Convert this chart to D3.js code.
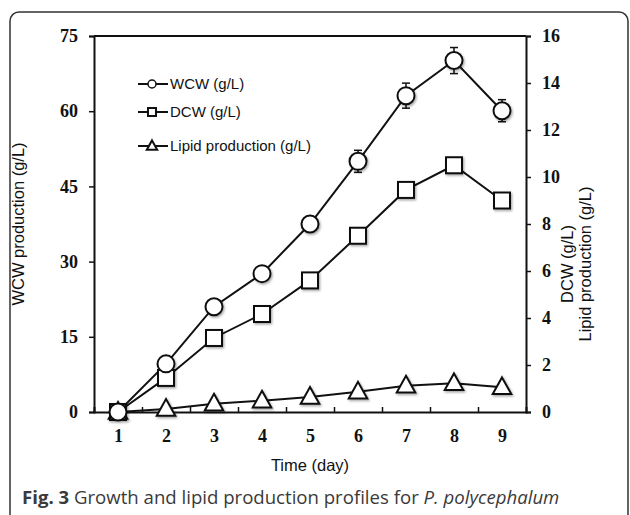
<!DOCTYPE html>
<html><head><meta charset="utf-8">
<script src="https://cdn.jsdelivr.net/npm/d3@7"></script>
<style>body{margin:0;background:#fff}svg{display:block}</style>
</head><body>
<script>
const days = [1,2,3,4,5,6,7,8,9];
const wcw = [0, 9.6, 21, 27.6, 37.5, 50, 63.1, 70.1, 60.1];
const wcwErr = [0, 0.5, 1.5, 1.4, 1.5, 2.2, 2.5, 2.6, 2.2];
const dcw = [0, 1.45, 3.15, 4.17, 5.6, 7.5, 9.45, 10.5, 9.0];
const lipid = [0, 0.13, 0.35, 0.48, 0.64, 0.86, 1.12, 1.22, 1.05];
const leftTicks = [0, 15, 30, 45, 60, 75];
const rightTicks = [0, 2, 4, 6, 8, 10, 12, 14, 16];
const legendLabels = ["WCW (g/L)", "DCW (g/L)", "Lipid production (g/L)"];

const W = 630, H = 515;
const svg = d3.select("body").append("svg").attr("width", W).attr("height", H);
const defs = svg.append("defs");
const f = defs.append("filter").attr("id","sh").attr("x","-50%").attr("y","-50%").attr("width","200%").attr("height","200%");
f.append("feDropShadow").attr("dx",1.2).attr("dy",1.5).attr("stdDeviation",1).attr("flood-color","#000").attr("flood-opacity",0.35);

// frame
svg.append("rect").attr("x",10).attr("y",12).attr("width",618).attr("height",540)
  .attr("rx",9).attr("fill","none").attr("stroke","#333").attr("stroke-width",1.5);

const L = 94, R = 526, T = 36, B = 412;
const x = d3.scaleLinear().domain([0.5, 9.5]).range([L, R]);
const yL = d3.scaleLinear().domain([0, 75]).range([B, T]);
const yR = d3.scaleLinear().domain([0, 16]).range([B, T]);

const serif = "'Liberation Serif','Times New Roman',serif";
const sans = "'Liberation Sans',Arial,sans-serif";

// top border
svg.append("line").attr("x1",L).attr("x2",R).attr("y1",T).attr("y2",T).attr("stroke","#111").attr("stroke-width",2);

function styleAxis(g){
  g.select(".domain").attr("stroke","#111").attr("stroke-width",2);
  g.selectAll(".tick line").attr("stroke","#111").attr("stroke-width",1.5);
  g.selectAll("text").attr("font-family",serif).attr("font-weight","bold").attr("font-size",18).attr("fill","#111");
}
const gl = svg.append("g").attr("transform",`translate(${L},0)`)
  .call(d3.axisLeft(yL).tickValues(leftTicks).tickSizeOuter(0).tickSize(5).tickPadding(11));
styleAxis(gl);
const gr = svg.append("g").attr("transform",`translate(${R},0)`)
  .call(d3.axisRight(yR).tickValues(rightTicks).tickSizeOuter(0).tickSize(5).tickPadding(11));
styleAxis(gr);
const gb = svg.append("g").attr("transform",`translate(0,${B})`)
  .call(d3.axisBottom(x).tickValues(days.slice(0,8).map(d=>d+0.5)).tickSizeOuter(0).tickSize(-5).tickFormat(""));
styleAxis(gb);
const gb2 = svg.append("g").attr("transform",`translate(0,${B})`)
  .call(d3.axisBottom(x).tickValues(days).tickSize(0).tickPadding(17).tickFormat(d3.format("d")));
gb2.select(".domain").remove();
styleAxis(gb2);

// axis titles
svg.append("text").attr("transform",`translate(24,${(T+B)/2}) rotate(-90)`).attr("text-anchor","middle")
  .attr("font-family",sans).attr("font-size",16.5).attr("fill","#111").text("WCW production (g/L)");
svg.append("text").attr("transform",`translate(573,264) rotate(-90)`).attr("text-anchor","middle")
  .attr("font-family",sans).attr("font-size",16.5).attr("fill","#111").text("DCW (g/L)");
svg.append("text").attr("transform",`translate(591,264) rotate(-90)`).attr("text-anchor","middle")
  .attr("font-family",sans).attr("font-size",16.5).attr("fill","#111").text("Lipid production (g/L)");
svg.append("text").attr("x",310).attr("y",471).attr("text-anchor","middle")
  .attr("font-family",sans).attr("font-size",16.5).attr("fill","#111").text("Time (day)");

// lines
const lineW = d3.line().x((d,i)=>x(days[i])).y(d=>yL(d));
const lineR = d3.line().x((d,i)=>x(days[i])).y(d=>yR(d));
svg.append("path").attr("d",lineW(wcw)).attr("fill","none").attr("stroke","#111").attr("stroke-width",2);
svg.append("path").attr("d",lineR(dcw)).attr("fill","none").attr("stroke","#111").attr("stroke-width",2);
svg.append("path").attr("d",lineR(lipid)).attr("fill","none").attr("stroke","#111").attr("stroke-width",2);

// error bars
const eb = svg.append("g").attr("stroke","#111").attr("stroke-width",1.5);
days.forEach((d,i)=>{
  const cx = x(d), y1 = yL(wcw[i]+wcwErr[i]), y2 = yL(wcw[i]-wcwErr[i]);
  eb.append("line").attr("x1",cx).attr("x2",cx).attr("y1",y1).attr("y2",y2);
  eb.append("line").attr("x1",cx-4).attr("x2",cx+4).attr("y1",y1).attr("y2",y1);
  eb.append("line").attr("x1",cx-4).attr("x2",cx+4).attr("y1",y2).attr("y2",y2);
});

const tri = s => `M0,${-s*0.62}L${s*0.58},${s*0.42}L${-s*0.58},${s*0.42}Z`;
// markers
const mk = svg.append("g").attr("filter","url(#sh)").attr("fill","#fff").attr("stroke","#111").attr("stroke-width",2);
days.forEach((d,i)=>{
  mk.append("path").attr("d",tri(16)).attr("transform",`translate(${x(d)},${yR(lipid[i])})`);
});
days.forEach((d,i)=>{
  mk.append("rect").attr("x",x(d)-8).attr("y",yR(dcw[i])-8).attr("width",16).attr("height",16);
});
days.forEach((d,i)=>{
  mk.append("circle").attr("cx",x(d)).attr("cy",yL(wcw[i])).attr("r",8.5);
});

// legend
const ly = [84, 112, 146];
const lg = svg.append("g");
legendLabels.forEach((t,i)=>{
  const y = ly[i];
  lg.append("line").attr("x1",138).attr("x2",168).attr("y1",y).attr("y2",y).attr("stroke","#111").attr("stroke-width",2);
  if(i===0) lg.append("circle").attr("cx",152).attr("cy",y).attr("r",4).attr("fill","#fff").attr("stroke","#111").attr("stroke-width",1.5);
  if(i===1) lg.append("rect").attr("x",148).attr("y",y-4).attr("width",8).attr("height",8).attr("fill","#fff").attr("stroke","#111").attr("stroke-width",2);
  if(i===2) lg.append("path").attr("d",tri(9)).attr("transform",`translate(152,${y})`).attr("fill","#fff").attr("stroke","#111").attr("stroke-width",2);
  lg.append("text").attr("x",170).attr("y",y).attr("dy","0.35em").attr("font-family",sans).attr("font-size",15).attr("fill","#111").text(t);
});

// caption
const cap = svg.append("text").attr("x",22).attr("y",504).attr("font-family","'Open Sans','Noto Sans',sans-serif").attr("font-size",18.6).attr("fill","#3a3a3a");
cap.append("tspan").attr("font-weight","bold").text("Fig. 3");
cap.append("tspan").text(" Growth and lipid production profiles for ");
cap.append("tspan").attr("font-style","italic").text("P. polycephalum");
</script>
</body></html>
